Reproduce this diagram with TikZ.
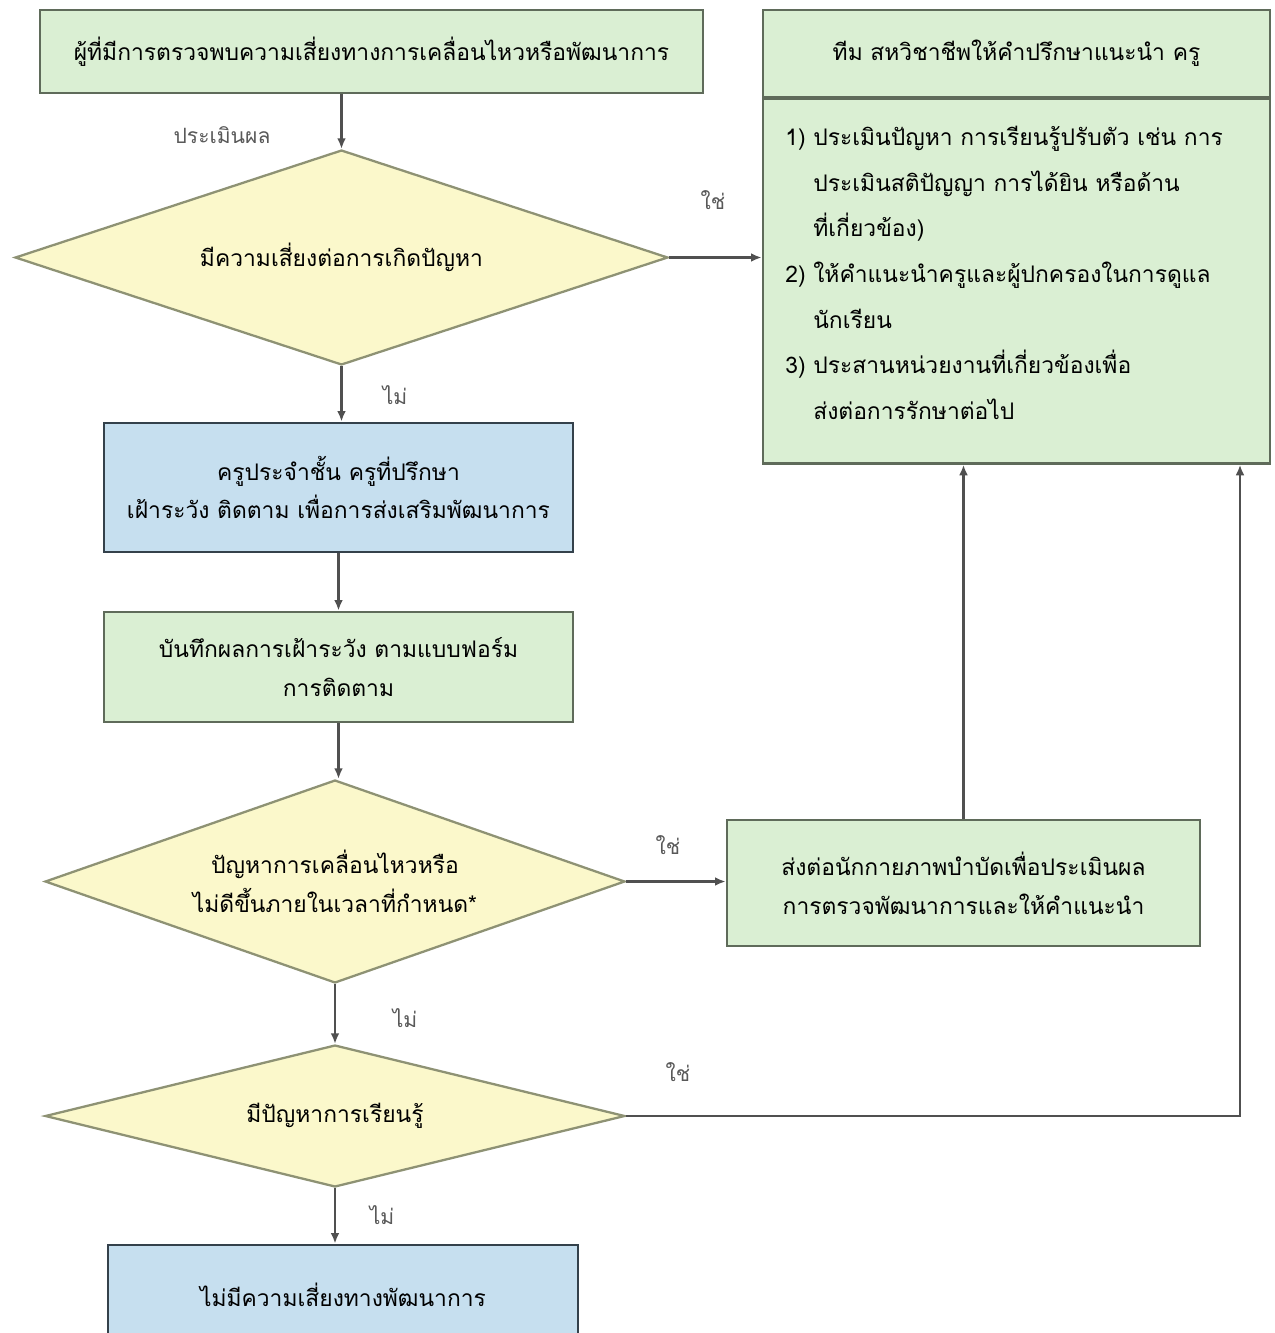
\documentclass[tikz,border=0pt]{standalone}
\usepackage{fontspec}
\setmainfont{Loma}[Script=Thai]
\usetikzlibrary{shapes.geometric,arrows.meta}

\definecolor{boxgreen}{HTML}{DAEFD3}
\definecolor{edgegreen}{HTML}{5F6B5A}
\definecolor{boxblue}{HTML}{C6DFEF}
\definecolor{edgeblue}{HTML}{34414B}
\definecolor{boxyellow}{HTML}{FBF8CB}
\definecolor{edgeyellow}{HTML}{8E9274}
\definecolor{linegrey}{HTML}{505050}

\tikzset{
  greenbox/.style={rectangle, draw=edgegreen, fill=boxgreen, line width=1.6pt, inner sep=0pt, align=center},
  bluebox/.style={rectangle, draw=edgeblue, fill=boxblue, line width=1.6pt, inner sep=0pt, align=center},
  decision/.style={diamond, aspect=3.5, draw=edgeyellow, fill=boxyellow, line width=1.3pt, inner sep=0pt, align=center},
  flow/.style={draw=linegrey, line width=1.4pt, -{Latex[length=6pt,width=5pt]}},
  answer/.style={text=black!65, font=\fontsize{12}{14}\selectfont}
}

\begin{document}
\begin{tikzpicture}[x=0.02cm, y=-0.02cm, font=\fontsize{13}{22}\selectfont]
    \useasboundingbox[fill=white] (0,0) rectangle (1275,1333);

    % left column
    \node[greenbox, minimum width=13.26cm, minimum height=1.66cm] (start) at (371.5,51.5)
        {ผู้ที่มีการตรวจพบความเสี่ยงทางการเคลื่อนไหวหรือพัฒนาการ};
    \node[decision, minimum width=13.06cm, minimum height=4.3cm] (dec1) at (341.5,257.5)
        {มีความเสี่ยงต่อการเกิดปัญหา};
    \node[bluebox, minimum width=9.38cm, minimum height=2.58cm] (watch) at (338.5,487.5)
        {ครูประจำชั้น ครูที่ปรึกษา\\เฝ้าระวัง ติดตาม เพื่อการส่งเสริมพัฒนาการ};
    \node[greenbox, minimum width=9.38cm, minimum height=2.2cm] (record) at (338.5,667)
        {บันทึกผลการเฝ้าระวัง ตามแบบฟอร์ม\\การติดตาม};
    \node[decision, minimum width=11.6cm, minimum height=4.06cm] (dec2) at (335,881.5)
        {ปัญหาการเคลื่อนไหวหรือ\\ไม่ดีขึ้นภายในเวลาที่กำหนด*};
    \node[decision, aspect=5, minimum width=11.6cm, minimum height=2.84cm] (dec3) at (335,1116)
        {มีปัญหาการเรียนรู้};
    \node[bluebox, minimum width=9.4cm, minimum height=2cm] (normal) at (343,1295)
        {ไม่มีความเสี่ยงทางพัฒนาการ};

    % right column
    \node[greenbox, minimum width=10.14cm, minimum height=1.74cm] (teamhead) at (1016.5,53.5)
        {ทีม สหวิชาชีพให้คำปรึกษาแนะนำ ครู};
    \node[greenbox, minimum width=10.14cm, minimum height=7.3cm, anchor=north] (teambody) at (1016.5,97) {};
    \node[anchor=north west, inner sep=0pt] (teamlist) at (785,118)
        {\begin{tabular}{@{}l@{\ }l@{}}
            1) & ประเมินปัญหา การเรียนรู้ปรับตัว เช่น การ\\[4pt]
               & ประเมินสติปัญญา การได้ยิน หรือด้าน\\[4pt]
               & ที่เกี่ยวข้อง)\\[4pt]
            2) & ให้คำแนะนำครูและผู้ปกครองในการดูแล\\[4pt]
               & นักเรียน\\[4pt]
            3) & ประสานหน่วยงานที่เกี่ยวข้องเพื่อ\\[4pt]
               & ส่งต่อการรักษาต่อไป
         \end{tabular}};
    \node[greenbox, minimum width=9.46cm, minimum height=2.52cm] (refer) at (963.5,883)
        {ส่งต่อนักกายภาพบำบัดเพื่อประเมินผล\\การตรวจพัฒนาการและให้คำแนะนำ};

    \coordinate (back) at (1240,1116);

    % connectors
    \draw[flow] (start.south -| dec1.north) -- (dec1.north);
    \draw[flow] (dec1.east) -- (dec1.east -| teambody.west);
    \draw[flow] (dec1.south) -- (dec1.south |- watch.north);
    \draw[flow] (watch.south) -- (record.north);
    \draw[flow] (record.south) -- (record.south |- dec2.north);
    \draw[flow] (dec2.east) -- (dec2.east -| refer.west);
    \draw[flow] (refer.north) -- (refer.north |- teambody.south);
    \draw[flow] (dec2.south) -- (dec3.north);
    \draw[flow] (dec3.east) -- (back) -- (back |- teambody.south);
    \draw[flow] (dec3.south) -- (dec3.south |- normal.north);

    % answers
    \node[answer] (assess) at (222,135) {ประเมินผล};
    \node[answer] (yes1) at (713,200) {ใช่};
    \node[answer] (no1) at (395,395) {ไม่};
    \node[answer] (yes2) at (668,845) {ใช่};
    \node[answer] (no2) at (405,1018) {ไม่};
    \node[answer] (yes3) at (678,1072) {ใช่};
    \node[answer] (no3) at (382,1215) {ไม่};
\end{tikzpicture}
\end{document}
